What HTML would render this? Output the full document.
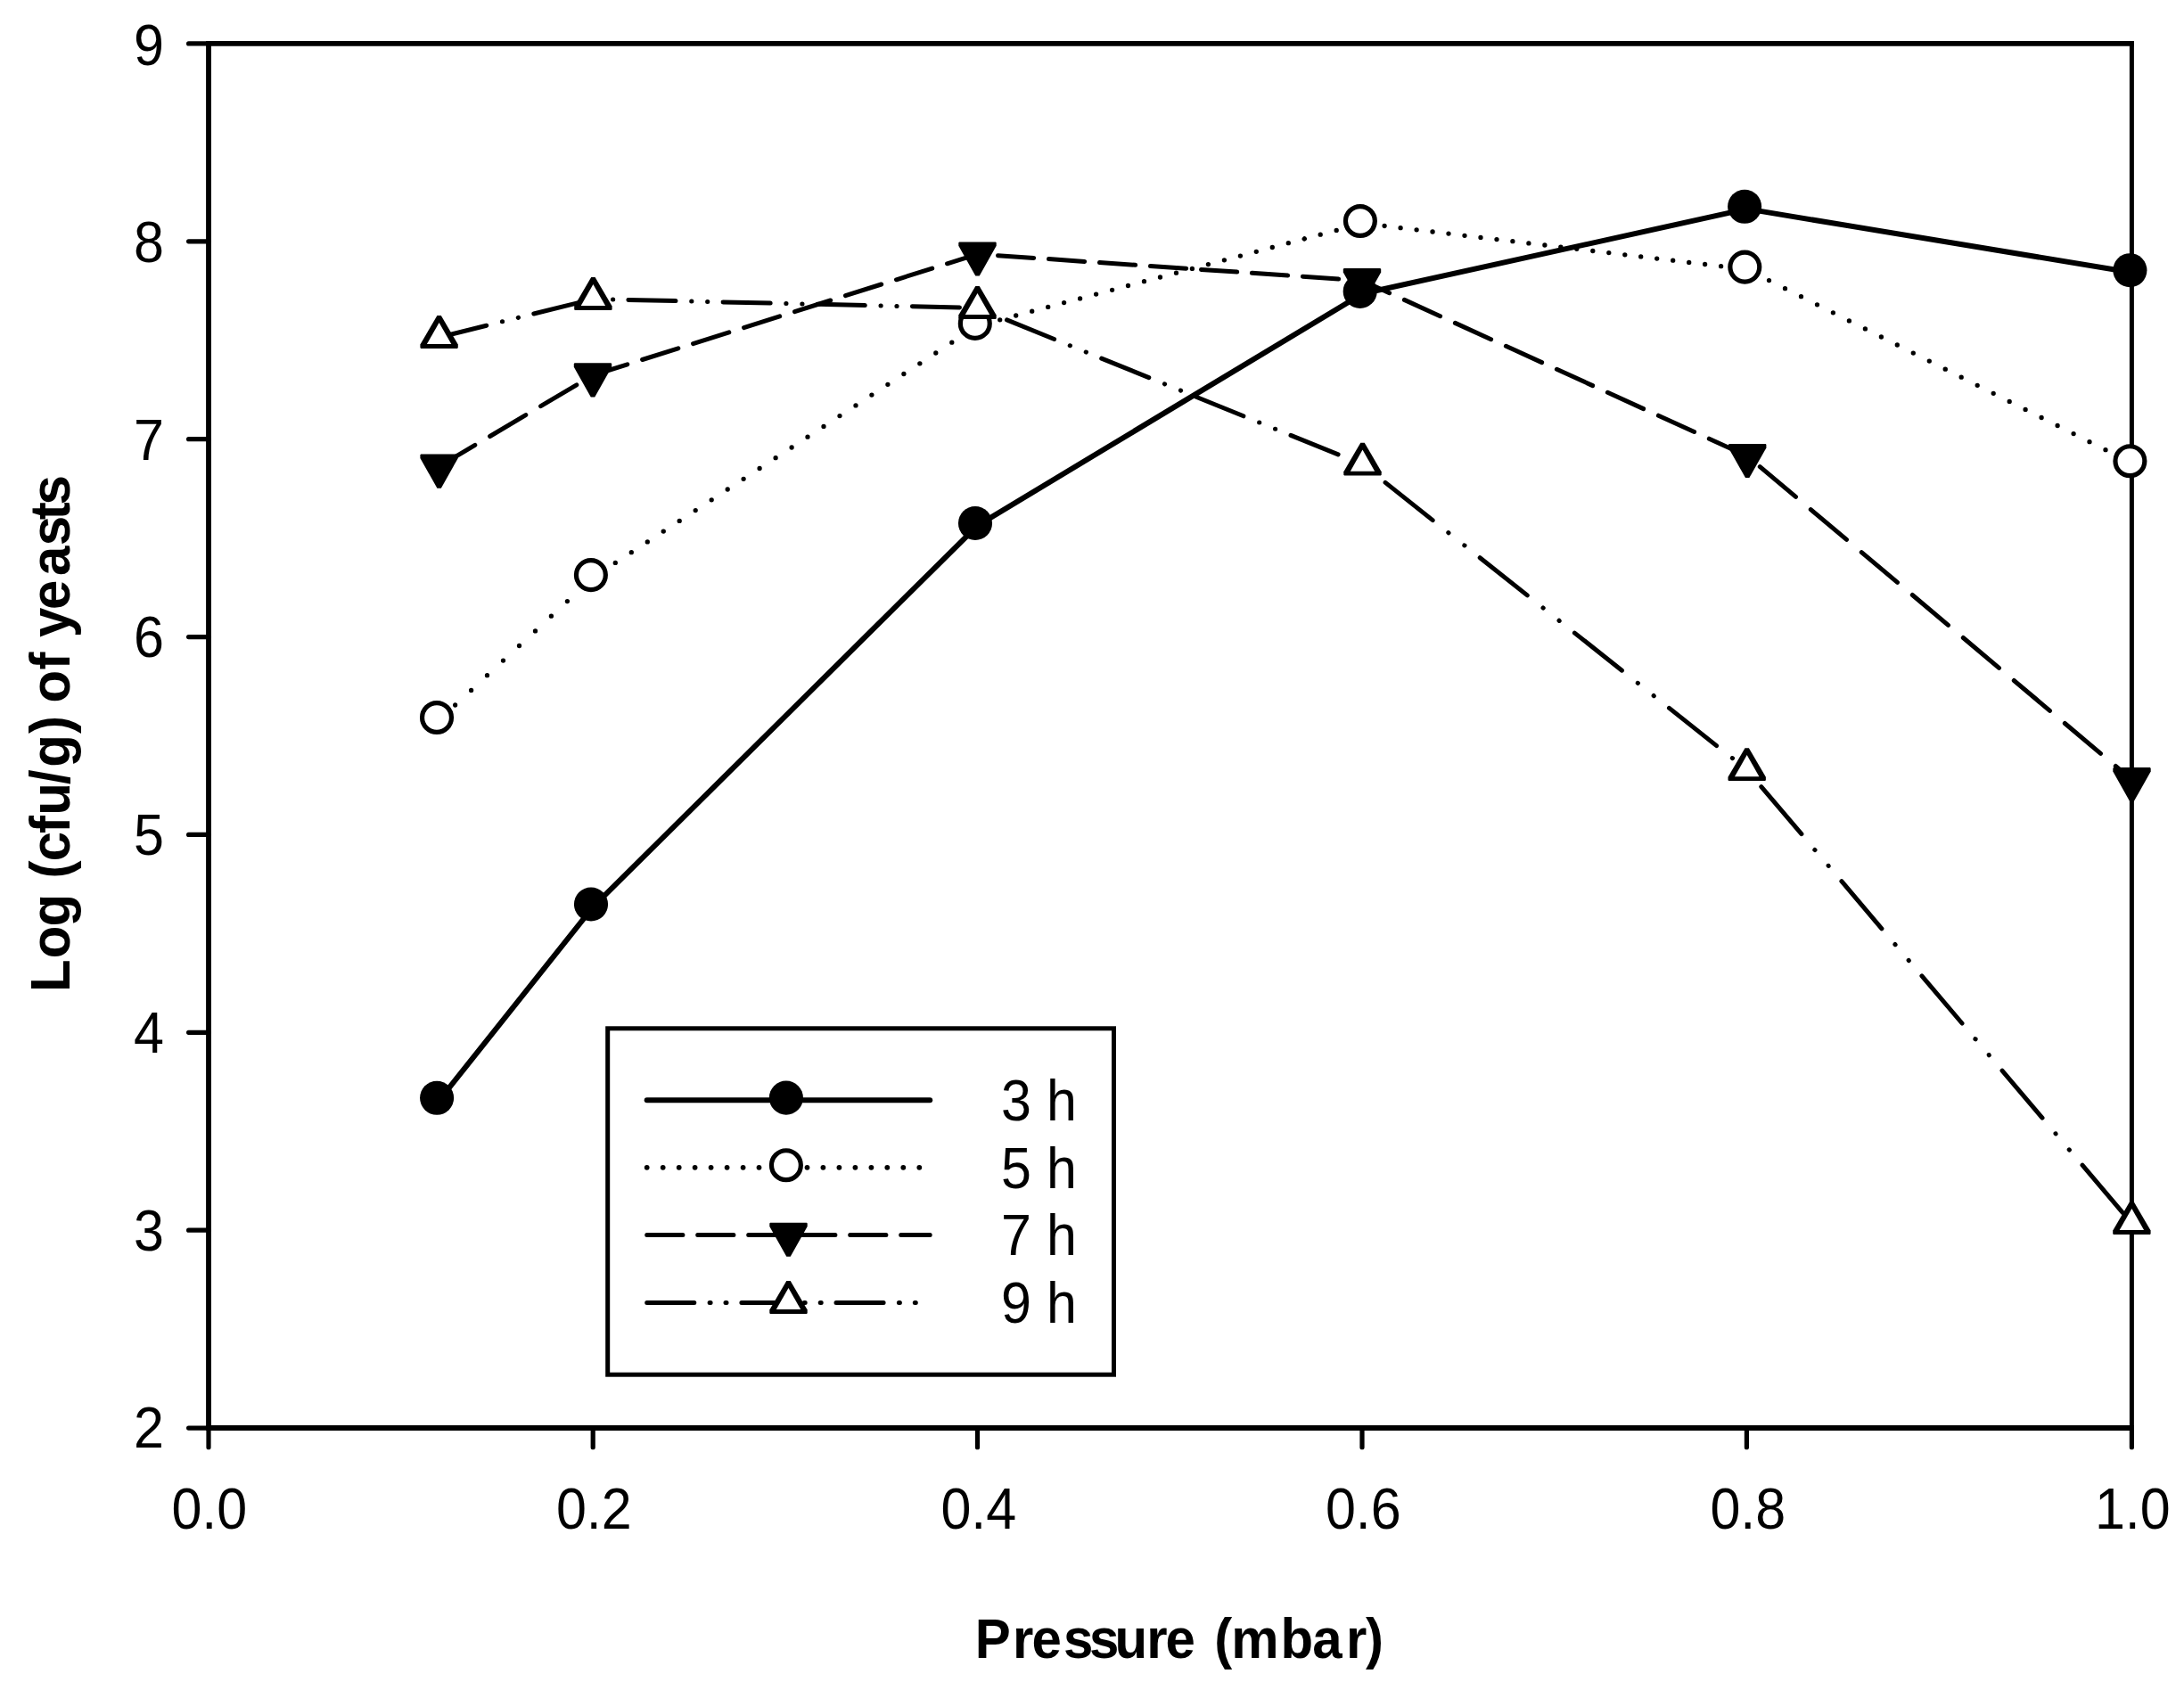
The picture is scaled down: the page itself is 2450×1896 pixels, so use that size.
<!DOCTYPE html>
<html lang="en"><head><meta charset="utf-8"><title>Yeast counts versus pressure</title>
<style>html,body{margin:0;padding:0;background:#fff}svg{display:block}text{font-family:"Liberation Sans",sans-serif;fill:#000}.t{font-size:61px}.b{font-size:60px;font-weight:bold}.ln{fill:none;stroke:#000;stroke-linecap:round;stroke-linejoin:round}</style></head><body>
<svg width="2450" height="1896" viewBox="0 0 2450 1896">
<rect width="2450" height="1896" fill="#fff"/>
<g fill="none" stroke="#000">
<path stroke-width="5.8" d="M231.1 48.9H2394.0"/>
<path stroke-width="6.0" d="M231.1 1602.0H2394.0"/>
<path stroke-width="5.8" d="M234.0 46.0V1605.0"/>
<path stroke-width="5.0" d="M2391.4 46.0V1605.0"/>
<path stroke-width="5.2" stroke-linecap="round" d="M234.0 48.9H211.6 M234.0 270.8H211.6 M234.0 492.7H211.6 M234.0 714.6H211.6 M234.0 936.4H211.6 M234.0 1158.3H211.6 M234.0 1380.2H211.6 M234.0 1602.1H211.6 M234.0 1602.1V1623.7 M665.2 1602.1V1623.7 M1096.5 1602.1V1623.7 M1528.0 1602.1V1623.7 M1959.4 1602.1V1623.7 M2391.4 1602.1V1623.7"/>
</g>
<g class="t" text-anchor="end">
<text transform="translate(184 72.9) scale(1 1.07)">9</text>
<text transform="translate(184 293.6) scale(1 1.07)">8</text>
<text transform="translate(184 515.5) scale(1 1.07)">7</text>
<text transform="translate(184 737.4) scale(1 1.07)">6</text>
<text transform="translate(184 959.2) scale(1 1.07)">5</text>
<text transform="translate(184 1181.1) scale(1 1.07)">4</text>
<text transform="translate(184 1403.0) scale(1 1.07)">3</text>
<text transform="translate(184 1624.1) scale(1 1.07)">2</text>
</g>
<g class="t" text-anchor="middle">
<text transform="translate(234.8 1714.6) scale(1 1.07)">0.0</text>
<text transform="translate(666.3 1714.6) scale(1 1.07)">0.2</text>
<text transform="translate(1097.8 1714.6) scale(1 1.07)">0.4</text>
<text transform="translate(1529.3 1714.6) scale(1 1.07)">0.6</text>
<text transform="translate(1960.8 1714.6) scale(1 1.07)">0.8</text>
<text transform="translate(2392.3 1714.6) scale(1 1.07)">1.0</text>
</g>
<text class="b" x="1093.8 1136.0 1157.5 1193.0 1222.0 1250.4 1286.2 1307.5 1340.9 1362.3 1381.3 1436.6 1472.2 1510.0 1531.9" y="0" transform="translate(0 1859.8) scale(1 1.055)">Pressure (mbar)</text>
<text class="b" x="-4.0 33.8 69.5 106.1 123.6 142.8 174.1 194.2 229.1 248.2 285.9 305.9 320.6 357.4 377.4 394.1 425.0 462.9 496.8 525.8 542.6" y="0" transform="translate(78.1 1109) rotate(-90) scale(1 1.06)">Log (cfu/g) of yeasts</text>
<polyline class="ln" stroke-width="6.0" points="492.7,1234.4 665.6,1017.1 1096.6,589.6 1528.3,329.5 1959.7,234.4 2392.0,305.8"/>
<circle cx="490.1" cy="1231.8" r="19.05" fill="#000"/>
<circle cx="663.0" cy="1014.5" r="19.05" fill="#000"/>
<circle cx="1094.0" cy="587.0" r="19.05" fill="#000"/>
<circle cx="1525.7" cy="326.9" r="19.05" fill="#000"/>
<circle cx="1957.1" cy="231.8" r="19.05" fill="#000"/>
<circle cx="2389.4" cy="303.2" r="19.05" fill="#000"/>
<path class="ln" stroke-width="5.3" d="M492.6 807.6L492.6 807.6 M510.6 791.0L510.6 791.0 M528.6 774.4L528.6 774.3 M546.5 757.7L546.5 757.7 M564.5 741.1L564.5 741.1 M582.5 724.5L582.5 724.5 M600.5 707.9L600.5 707.8 M618.4 691.2L618.4 691.2 M636.4 674.6L636.4 674.6 M654.4 658.0L654.4 658.0 M672.4 643.2L672.4 643.2 M690.3 631.4L690.3 631.4 M708.3 619.7L708.3 619.7 M726.3 607.9L726.3 607.9 M744.2 596.1L744.3 596.1 M762.2 584.4L762.2 584.3 M780.2 572.6L780.2 572.6 M798.2 560.8L798.2 560.8 M816.2 549.0L816.2 549.0 M834.1 537.3L834.1 537.3 M852.1 525.5L852.1 525.5 M870.1 513.7L870.1 513.7 M888.1 502.0L888.1 501.9 M906.0 490.2L906.0 490.2 M924.0 478.4L924.0 478.4 M942.0 466.6L942.0 466.6 M960.0 454.9L960.0 454.8 M977.9 443.1L977.9 443.1 M995.9 431.3L995.9 431.3 M1013.9 419.5L1013.9 419.5 M1031.8 407.8L1031.9 407.8 M1049.8 396.0L1049.8 396.0 M1067.8 384.2L1067.8 384.2 M1085.8 372.5L1085.8 372.4 M1103.8 363.5L1103.8 363.5 M1121.7 358.8L1121.7 358.8 M1139.7 354.0L1139.7 354.0 M1157.7 349.2L1157.7 349.2 M1175.7 344.4L1175.7 344.4 M1193.6 339.6L1193.6 339.6 M1211.6 334.9L1211.6 334.9 M1229.6 330.1L1229.6 330.1 M1247.6 325.3L1247.6 325.3 M1265.5 320.5L1265.5 320.5 M1283.5 315.7L1283.5 315.7 M1301.5 311.0L1301.5 311.0 M1319.5 306.2L1319.5 306.2 M1337.4 301.4L1337.4 301.4 M1355.4 296.6L1355.4 296.6 M1373.4 291.8L1373.4 291.8 M1391.4 287.1L1391.4 287.1 M1409.3 282.3L1409.3 282.3 M1427.3 277.5L1427.3 277.5 M1445.3 272.7L1445.3 272.7 M1463.2 268.0L1463.3 267.9 M1481.2 263.2L1481.2 263.2 M1499.2 258.4L1499.2 258.4 M1517.2 253.6L1517.2 253.6 M1535.2 251.4L1535.2 251.4 M1553.1 253.5L1553.1 253.5 M1571.1 255.7L1571.1 255.7 M1589.1 257.8L1589.1 257.8 M1607.0 260.0L1607.1 260.0 M1625.0 262.1L1625.0 262.1 M1643.0 264.3L1643.0 264.3 M1661.0 266.4L1661.0 266.4 M1679.0 268.6L1679.0 268.6 M1696.9 270.7L1696.9 270.7 M1714.9 272.9L1714.9 272.9 M1732.9 275.0L1732.9 275.0 M1750.8 277.2L1750.9 277.2 M1768.8 279.3L1768.8 279.3 M1786.8 281.5L1786.8 281.5 M1804.8 283.6L1804.8 283.6 M1822.8 285.8L1822.8 285.8 M1840.7 287.9L1840.7 287.9 M1858.7 290.1L1858.7 290.1 M1876.7 292.2L1876.7 292.2 M1894.7 294.4L1894.7 294.4 M1912.6 296.5L1912.6 296.5 M1930.6 298.7L1930.6 298.7 M1948.6 300.8L1948.6 300.8 M1966.5 305.5L1966.6 305.6 M1984.5 314.6L1984.5 314.6 M2002.5 323.7L2002.5 323.7 M2020.5 332.7L2020.5 332.7 M2038.5 341.8L2038.5 341.8 M2056.4 350.8L2056.4 350.8 M2074.4 359.9L2074.4 359.9 M2092.4 368.9L2092.4 368.9 M2110.4 378.0L2110.4 378.0 M2128.3 387.0L2128.3 387.0 M2146.3 396.1L2146.3 396.1 M2164.3 405.1L2164.3 405.1 M2182.2 414.2L2182.3 414.2 M2200.2 423.2L2200.2 423.2 M2218.2 432.3L2218.2 432.3 M2236.2 441.3L2236.2 441.3 M2254.2 450.4L2254.2 450.4 M2272.1 459.4L2272.1 459.4 M2290.1 468.5L2290.1 468.5 M2308.1 477.5L2308.1 477.5 M2326.1 486.6L2326.1 486.6 M2344.0 495.6L2344.0 495.7 M2362.0 504.7L2362.0 504.7 M2380.0 513.7L2380.0 513.8"/>
<circle cx="490.0" cy="805.0" r="16.45" fill="#fff" stroke="#000" stroke-width="5.2"/>
<circle cx="662.9" cy="645.1" r="16.45" fill="#fff" stroke="#000" stroke-width="5.2"/>
<circle cx="1093.8" cy="362.9" r="16.45" fill="#fff" stroke="#000" stroke-width="5.2"/>
<circle cx="1525.9" cy="248.0" r="16.45" fill="#fff" stroke="#000" stroke-width="5.2"/>
<circle cx="1957.3" cy="299.6" r="16.45" fill="#fff" stroke="#000" stroke-width="5.2"/>
<circle cx="2389.4" cy="517.2" r="16.45" fill="#fff" stroke="#000" stroke-width="5.2"/>
<path class="ln" stroke-width="5.0" d="M492.6 523.3L532.8 499.4 M549.6 489.5L589.8 465.6 M606.6 455.7L646.8 431.8 M663.6 421.8L665.0 421.0 M665.0 421.0L703.8 408.8 M720.6 403.5L760.8 390.8 M777.5 385.6L817.8 372.9 M834.5 367.6L874.7 354.9 M891.5 349.7L931.7 337.0 M948.5 331.7L988.7 319.0 M1005.5 313.8L1045.7 301.1 M1062.5 295.8L1096.5 285.1 M1096.5 285.1L1102.7 285.5 M1119.5 286.7L1159.7 289.4 M1176.5 290.6L1216.7 293.4 M1233.5 294.5L1273.7 297.3 M1290.5 298.5L1330.7 301.2 M1347.5 302.4L1387.7 305.1 M1404.4 306.3L1444.6 309.1 M1461.4 310.2L1501.6 313.0 M1518.4 314.1L1528.0 314.8 M1528.0 314.8L1558.6 328.7 M1575.4 336.4L1615.6 354.7 M1632.4 362.4L1672.6 380.7 M1689.4 388.3L1729.6 406.6 M1746.4 414.3L1786.6 432.6 M1803.4 440.3L1843.6 458.6 M1860.4 466.2L1900.6 484.5 M1917.3 492.2L1957.5 510.5 M1974.3 523.6L2014.5 557.4 M2031.3 571.6L2071.5 605.4 M2088.3 619.6L2128.5 653.4 M2145.3 667.5L2185.5 701.4 M2202.3 715.5L2242.5 749.4 M2259.3 763.5L2299.5 797.3 M2316.3 811.5L2356.5 845.3 M2373.3 859.5L2391.5 874.8"/>
<polygon points="490.4,547.7 494.8,547.7 513.8,514.0 513.8,510.4 513.0,509.6 472.2,509.6 471.4,510.4 471.4,514.0" fill="#000"/>
<polygon points="662.8,445.4 667.2,445.4 686.2,411.7 686.2,408.1 685.4,407.3 644.6,407.3 643.8,408.1 643.8,411.7" fill="#000"/>
<polygon points="1094.3,309.5 1098.7,309.5 1117.7,275.8 1117.7,272.2 1116.9,271.4 1076.1,271.4 1075.3,272.2 1075.3,275.8" fill="#000"/>
<polygon points="1525.8,339.2 1530.2,339.2 1549.2,305.5 1549.2,301.9 1548.4,301.1 1507.6,301.1 1506.8,301.9 1506.8,305.5" fill="#000"/>
<polygon points="1958.0,536.1 1962.4,536.1 1981.4,502.4 1981.4,498.8 1980.6,498.0 1939.8,498.0 1939.0,498.8 1939.0,502.4" fill="#000"/>
<polygon points="2389.3,899.2 2393.7,899.2 2412.7,865.5 2412.7,861.9 2411.9,861.1 2371.1,861.1 2370.3,861.9 2370.3,865.5" fill="#000"/>
<path class="ln" stroke-width="5.0" d="M492.6 378.4L545.7 365.2 M563.4 360.8L563.6 360.8 M581.3 356.4L581.5 356.3 M598.8 352.0L651.9 338.9 M669.5 335.6L669.7 335.6 M687.5 336.0L687.7 336.0 M704.9 336.4L758.0 337.6 M775.7 338.1L775.9 338.1 M793.6 338.5L793.8 338.5 M811.1 338.9L864.2 340.1 M881.8 340.5L882.0 340.5 M899.8 340.9L900.0 340.9 M917.2 341.3L970.3 342.6 M988.0 343.0L988.2 343.0 M1005.9 343.4L1006.1 343.4 M1023.4 343.8L1076.5 345.0 M1094.1 345.4L1094.3 345.4 M1112.1 351.8L1112.3 351.9 M1129.5 358.9L1182.6 380.5 M1200.2 387.7L1200.5 387.8 M1218.2 395.0L1218.4 395.1 M1235.7 402.1L1288.8 423.6 M1306.4 430.8L1306.6 430.9 M1324.4 438.1L1324.6 438.2 M1341.8 445.2L1394.9 466.8 M1412.6 474.0L1412.8 474.0 M1430.5 481.3L1430.7 481.3 M1448.0 488.4L1501.1 509.9 M1518.7 517.1L1518.9 517.2 M1536.6 527.6L1536.8 527.7 M1554.1 541.4L1607.2 583.6 M1624.8 597.6L1625.0 597.8 M1642.8 611.9L1643.0 612.0 M1660.2 625.7L1713.3 667.9 M1731.0 681.9L1731.2 682.1 M1749.0 696.2L1749.2 696.4 M1766.4 710.1L1819.5 752.2 M1837.2 766.3L1837.4 766.4 M1855.1 780.5L1855.3 780.7 M1872.5 794.4L1925.6 836.6 M1943.3 850.6L1943.5 850.7 M1961.0 865.1L1961.2 865.4 M1975.8 882.6L2020.9 935.7 M2035.8 953.4L2036.0 953.6 M2051.1 971.3L2051.2 971.5 M2065.9 988.7L2110.9 1041.8 M2125.9 1059.5L2126.1 1059.7 M2141.1 1077.4L2141.3 1077.7 M2155.9 1094.9L2201.0 1148.0 M2215.9 1165.7L2216.1 1165.8 M2231.2 1183.6L2231.3 1183.8 M2246.0 1201.1L2291.0 1254.2 M2306.0 1271.8L2306.1 1272.0 M2321.2 1289.8L2321.4 1290.0 M2336.0 1307.2L2381.1 1360.3"/>
<polygon points="490.4,354.0 494.8,354.0 513.8,386.5 513.8,390.1 513.0,390.9 472.2,390.9 471.4,390.1 471.4,386.5" fill="#000"/><polygon points="492.6,361.9 506.3,386.0 478.9,386.0" fill="#fff"/>
<polygon points="663.2,311.1 667.6,311.1 686.6,343.6 686.6,347.2 685.8,348.0 645.0,348.0 644.2,347.2 644.2,343.6" fill="#000"/><polygon points="665.4,319.0 679.1,343.1 651.7,343.1" fill="#fff"/>
<polygon points="1094.3,321.1 1098.7,321.1 1117.7,353.6 1117.7,357.2 1116.9,358.0 1076.1,358.0 1075.3,357.2 1075.3,353.6" fill="#000"/><polygon points="1096.5,329.0 1110.2,353.1 1082.8,353.1" fill="#fff"/>
<polygon points="1526.3,496.7 1530.7,496.7 1549.7,529.2 1549.7,532.8 1548.9,533.6 1508.1,533.6 1507.3,532.8 1507.3,529.2" fill="#000"/><polygon points="1528.5,504.6 1542.2,528.7 1514.8,528.7" fill="#fff"/>
<polygon points="1957.5,839.2 1961.9,839.2 1980.9,871.7 1980.9,875.3 1980.1,876.1 1939.3,876.1 1938.5,875.3 1938.5,871.7" fill="#000"/><polygon points="1959.7,847.1 1973.4,871.2 1946.0,871.2" fill="#fff"/>
<polygon points="2389.2,1348.1 2393.6,1348.1 2412.6,1380.6 2412.6,1384.2 2411.8,1385.0 2371.0,1385.0 2370.2,1384.2 2370.2,1380.6" fill="#000"/><polygon points="2391.4,1356.0 2405.1,1380.1 2377.7,1380.1" fill="#fff"/>
<rect x="681.7" y="1153.8" width="567.8" height="388.4" fill="#fff" stroke="#000" stroke-width="5.0"/>
<path class="ln" stroke-width="6.0" d="M725.7 1234.2H1043.2"/>
<circle cx="881.9" cy="1231.6" r="19.05" fill="#000"/>
<text class="t" transform="translate(1123.1 1257.1) scale(1 1.055)">3 h</text>
<path class="ln" stroke-width="5.8" d="M725.7 1309.8L725.7 1309.8 M743.7 1309.8L743.7 1309.8 M761.7 1309.8L761.7 1309.8 M779.6 1309.8L779.6 1309.8 M797.6 1309.8L797.6 1309.8 M815.6 1309.8L815.6 1309.8 M833.6 1309.8L833.6 1309.8 M851.5 1309.8L851.5 1309.8 M869.5 1309.8L869.5 1309.8 M887.5 1309.8L887.5 1309.8 M905.5 1309.8L905.5 1309.8 M923.4 1309.8L923.4 1309.8 M941.4 1309.8L941.4 1309.8 M959.4 1309.8L959.4 1309.8 M977.4 1309.8L977.4 1309.8 M995.3 1309.8L995.3 1309.8 M1013.3 1309.8L1013.3 1309.8 M1031.3 1309.8L1031.3 1309.8"/>
<circle cx="881.9" cy="1307.2" r="16.45" fill="#fff" stroke="#000" stroke-width="5.2"/>
<text class="t" transform="translate(1123.1 1332.7) scale(1 1.055)">5 h</text>
<path class="ln" stroke-width="5.0" d="M725.7 1385.4L765.9 1385.4 M782.7 1385.4L822.9 1385.4 M839.7 1385.4L879.9 1385.4 M896.7 1385.4L936.9 1385.4 M953.7 1385.4L993.9 1385.4 M1010.7 1385.4L1043.2 1385.4"/>
<polygon points="882.3,1409.8 886.7,1409.8 905.7,1376.1 905.7,1372.5 904.9,1371.7 864.1,1371.7 863.3,1372.5 863.3,1376.1" fill="#000"/>
<text class="t" transform="translate(1123.1 1408.3) scale(1 1.055)">7 h</text>
<path class="ln" stroke-width="5.0" d="M725.7 1461.5L778.8 1461.5 M796.1 1461.5L797.1 1461.5 M814.0 1461.5L815.0 1461.5 M831.9 1461.5L885.0 1461.5 M902.2 1461.5L903.2 1461.5 M920.2 1461.5L921.2 1461.5 M938.0 1461.5L991.1 1461.5 M1008.4 1461.5L1009.4 1461.5 M1026.3 1461.5L1027.3 1461.5"/>
<polygon points="882.3,1437.1 886.7,1437.1 905.7,1469.6 905.7,1473.2 904.9,1474.0 864.1,1474.0 863.3,1473.2 863.3,1469.6" fill="#000"/><polygon points="884.5,1445.0 898.2,1469.1 870.8,1469.1" fill="#fff"/>
<text class="t" transform="translate(1123.1 1484.4) scale(1 1.055)">9 h</text>
</svg></body></html>
